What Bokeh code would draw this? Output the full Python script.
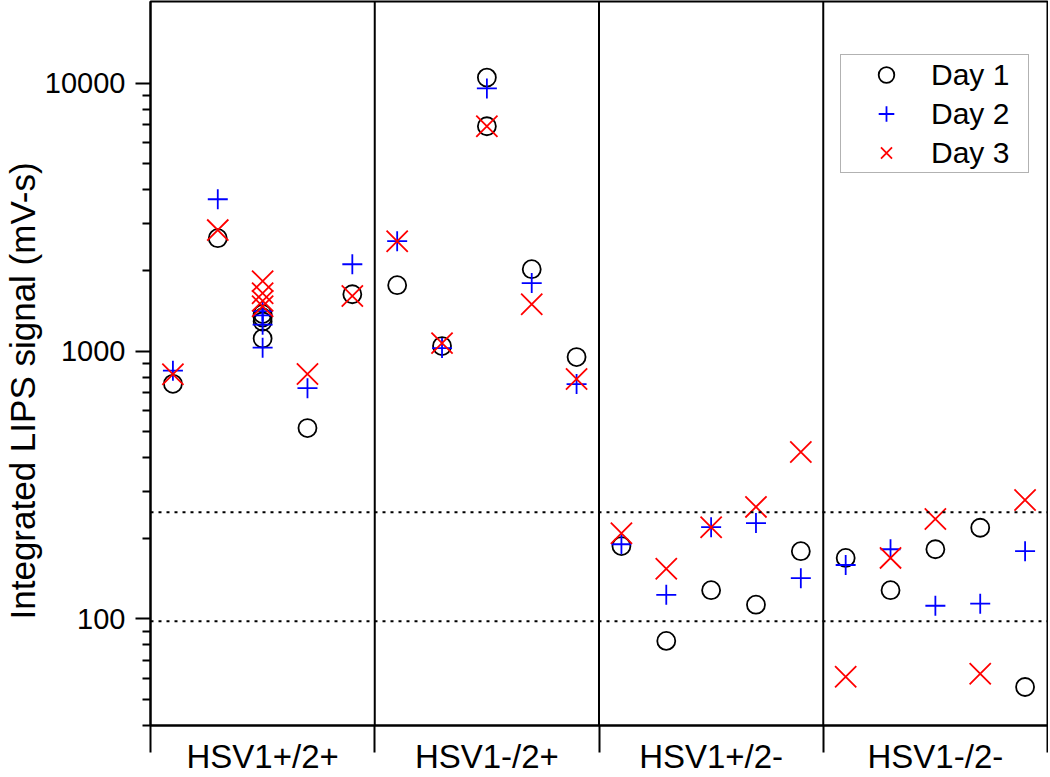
from bokeh.plotting import figure
from bokeh.models import Range1d, FixedTicker, PrintfTickFormatter, Span, Title
from bokeh.embed import file_html
from bokeh.resources import INLINE

# ---- data ----
groups = ["HSV1+/2+", "HSV1-/2+", "HSV1+/2-", "HSV1-/2-"]
samples_per_group = 5

day1_slot = [1, 2, 3, 3, 3, 3, 4, 5, 6, 7, 8, 8, 9, 10, 11, 12, 13, 14, 15, 16, 17, 18, 19, 20]
day1_val = [755, 2640, 1375, 1335, 1290, 1115, 516, 1630,
            1763, 1044, 10500, 6910, 2023, 950,
            187, 82.8, 128, 113, 179,
            169, 128, 182, 219, 55.7]

day2_slot = [1, 2, 3, 3, 3, 3, 4, 5, 6, 7, 8, 9, 10, 11, 12, 13, 14, 15, 16, 17, 18, 19, 20]
day2_val = [845, 3690, 1410, 1360, 1255, 1030, 727, 2110,
            2573, 1026, 9570, 1794, 753,
            190, 123, 220, 228, 142,
            159, 182, 112, 114, 179]

day3_slot = [1, 2, 3, 3, 3, 3, 4, 5, 6, 7, 8, 9, 10, 11, 12, 13, 14, 15, 16, 17, 18, 19, 20]
day3_val = [820, 2830, 1825, 1645, 1540, 1470, 821, 1605,
            2573, 1071, 6910, 1497, 787,
            209, 154, 220, 262, 420,
            60.8, 169, 236, 62.4, 278]

cutoffs = [250, 98]
y_major = [100, 1000, 10000]
y_minor = [40, 50, 60, 70, 80, 90, 200, 300, 400, 500, 600, 700, 800, 900,
           2000, 3000, 4000, 5000, 6000, 7000, 8000, 9000]
y_title = "Integrated LIPS signal (mV-s)"
legend_names = ["Day 1", "Day 2", "Day 3"]

FONT = "Liberation Sans"
n_slots = len(groups) * samples_per_group
ymin, ymax = 40, 20200

p = figure(width=1048, height=777, output_backend="svg", toolbar_location=None,
           x_range=Range1d(0.5, n_slots + 0.5), y_range=Range1d(ymin, ymax),
           y_axis_type="log",
           min_border_left=150, min_border_right=1, min_border_top=1, min_border_bottom=52)
p.background_fill_color = "white"
p.border_fill_color = "white"
p.outline_line_color = "black"
p.outline_line_width = 2
p.xgrid.visible = False
p.ygrid.visible = False

# separators between groups
seps = [g * samples_per_group + 0.5 for g in range(len(groups) + 1)]
centers = [g * samples_per_group + (samples_per_group + 1) / 2 for g in range(len(groups))]
for s in seps[1:-1]:
    p.add_layout(Span(location=s, dimension="height", line_color="black", line_width=2))
for c in cutoffs:
    p.add_layout(Span(location=c, dimension="width", line_color="black", line_width=2,
                      line_dash="3 5"))

# x axis: group names at centres, separator ticks
xa = p.xaxis[0]
xa.ticker = FixedTicker(ticks=centers, minor_ticks=seps)
xa.major_label_overrides = {c: g for c, g in zip(centers, groups)}
xa.axis_line_width = 2
xa.major_tick_out = 0
xa.major_tick_in = 0
xa.minor_tick_out = 27
xa.minor_tick_in = 0
xa.minor_tick_line_width = 2
xa.major_label_standoff = -15
xa.major_label_text_font = FONT
xa.major_label_text_font_size = "33px"
xa.major_label_text_color = "black"

ya = p.yaxis[0]
ya.ticker = FixedTicker(ticks=y_major, minor_ticks=y_minor)
ya.formatter = PrintfTickFormatter(format="%d")
ya.axis_line_width = 2
ya.major_tick_out = 15
ya.major_tick_in = 0
ya.minor_tick_out = 8
ya.minor_tick_in = 0
ya.major_tick_line_width = 2
ya.minor_tick_line_width = 2
ya.major_label_standoff = 10
ya.major_label_text_font = FONT
ya.major_label_text_font_size = "29px"
ya.major_label_text_color = "black"

p.add_layout(Title(text=y_title, align="left", offset=106, standoff=0,
                   text_font=FONT, text_font_size="35px", text_font_style="normal",
                   text_color="black"), "left")

# data
p.scatter(x=day1_slot, y=day1_val, marker="circle", size=18, fill_color=None,
          line_color="black", line_width=1.8, legend_label=legend_names[0])
p.scatter(x=day2_slot, y=day2_val, marker="cross", size=20,
          line_color="#0000FF", line_width=1.8, legend_label=legend_names[1])
p.scatter(x=day3_slot, y=day3_val, marker="x", size=30,
          line_color="#FF0000", line_width=1.8, legend_label=legend_names[2])

lg = p.legend[0]
lg.location = (690, 552)
lg.label_text_font = FONT
lg.label_text_font_size = "30px"
lg.label_text_color = "black"
lg.border_line_color = "#666666"
lg.border_line_width = 1
lg.background_fill_color = "white"
lg.background_fill_alpha = 1
lg.padding = 0
lg.spacing = 0
lg.margin = 0
lg.glyph_width = 90
lg.glyph_height = 39
lg.label_height = 39
lg.label_width = 97
lg.label_standoff = 0

open("out.html", "w").write(file_html(p, INLINE))
